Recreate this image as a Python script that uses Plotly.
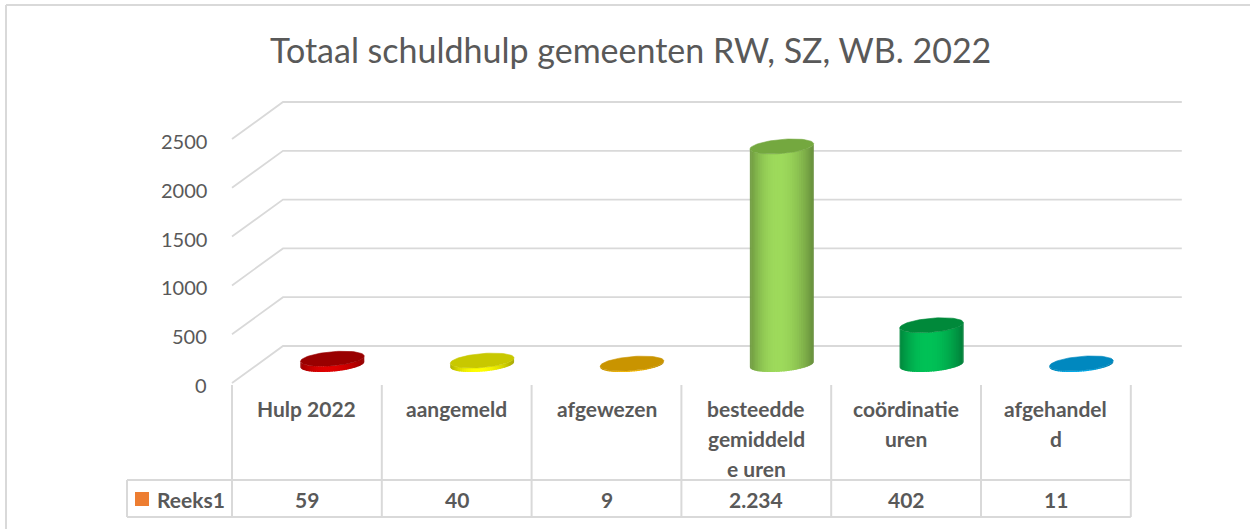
import numpy as np
import plotly.graph_objects as go

# ---------------- data ----------------
title = "Totaal schuldhulp gemeenten RW, SZ, WB. 2022"
categories = ["Hulp 2022", "aangemeld", "afgewezen",
              "besteedde gemiddelde uren", "coördinatie uren", "afgehandeld"]
category_lines = [["Hulp 2022"], ["aangemeld"], ["afgewezen"],
                  ["besteedde", "gemiddeld", "e uren"], ["coördinatie", "uren"],
                  ["afgehandel", "d"]]
values = [59, 40, 9, 2234, 402, 11]
value_labels = ["59", "40", "9", "2.234", "402", "11"]
series_name = "Reeks1"
tick_values = [0, 500, 1000, 1500, 2000, 2500]
tick_labels = ["0", "500", "1000", "1500", "2000", "2500"]
side_colors = ["#E00000", "#FFFF00", "#FFC000", "#9EDB5C", "#00C257", "#00B0F0"]
top_colors = ["#990000", "#C8C800", "#C99400", "#74A83F", "#00893A", "#0088BF"]

# ---------------- layout geometry ----------------
W, H = 1250, 529
CAT_PX = 149.8
LEFT_PX = 232.0
ZERO_PX = 383.0
VAL_PX = 0.0976
DEPTH_X, DEPTH_Y = 51.0, 37.0
GRID = "#D9D9D9"
TXT = "#595959"
FONT = "Lato"

n = len(categories)
dxu = DEPTH_X / CAT_PX
dyu = DEPTH_Y / VAL_PX


def px_to_x(px):
    return -0.5 + (px - LEFT_PX) / CAT_PX


def px_to_y(py):
    return (ZERO_PX - py) / VAL_PX


def hex_rgb(h):
    h = h.lstrip("#")
    return np.array([int(h[i:i + 2], 16) for i in (0, 2, 4)], dtype=float)


def shade(h, f):
    c = np.clip(hex_rgb(h) * f, 0, 255).astype(int)
    return "rgb(%d,%d,%d)" % tuple(c)


fig = go.Figure()

# back wall grid lines (with perspective diagonal)
gx, gy = [], []
for v in tick_values:
    gx += [-0.5, -0.5 + dxu, n - 0.5 + dxu, None]
    gy += [v, v + dyu, v + dyu, None]
fig.add_trace(go.Scatter(x=gx, y=gy, mode="lines", line=dict(color=GRID, width=1.8),
                         hoverinfo="skip", showlegend=False))

# cylinders
A_PX, B_PX, ROT = 32.0, 7.0, np.deg2rad(5)


def ellipse_pt(t):
    xp = A_PX * np.cos(t) * np.cos(ROT) + B_PX * np.sin(t) * np.sin(ROT)
    yp = -A_PX * np.cos(t) * np.sin(ROT) + B_PX * np.sin(t) * np.cos(ROT)
    return xp / CAT_PX, -yp / VAL_PX


NS = 40
for i, v in enumerate(values):
    cx = i + dxu / 2
    y0 = dyu / 2
    y1 = v + dyu / 2
    ts = np.linspace(0, np.pi, NS + 1)
    dt = ts[1] - ts[0]
    for k in range(NS):
        t0, t1 = ts[k], ts[k + 1]
        tm = 0.5 * (t0 + t1)
        u = (1 + np.cos(tm)) / 2  # 0 left, 1 right
        if u < 0.42:
            f = 1 - 0.30 * ((0.42 - u) / 0.42) ** 2
        else:
            f = 1 - 0.36 * ((u - 0.42) / 0.58) ** 2
        col = shade(side_colors[i], f)
        t1e = min(t1 + 0.7 * dt, np.pi) if k < NS - 1 else t1
        tt = np.linspace(t0, t1e, 4)
        ex, ey = ellipse_pt(tt)
        xs = list(cx + ex) + list(cx + ex[::-1])
        ys = list(y0 + ey) + list(y1 + ey[::-1])
        fig.add_trace(go.Scatter(x=xs, y=ys, mode="lines", fill="toself",
                                 fillcolor=col, line=dict(width=0),
                                 hoverinfo="skip", showlegend=False))
    tt = np.linspace(0, 2 * np.pi, 80)
    ex, ey = ellipse_pt(tt)
    fig.add_trace(go.Scatter(x=cx + ex, y=y1 + ey, mode="lines", fill="toself",
                             fillcolor=top_colors[i], line=dict(color=top_colors[i], width=0.6),
                             hoverinfo="skip", showlegend=False))

# data table lines
TABLE_TOP, ROW_TOP, ROW_BOT, TABLE_LEFT = 385, 480, 517, 127
lx, ly = [], []
for k in range(n + 1):
    lx += [k - 0.5, k - 0.5, None]
    ly += [px_to_y(TABLE_TOP), px_to_y(ROW_BOT), None]
lx += [px_to_x(TABLE_LEFT), px_to_x(TABLE_LEFT), None]
ly += [px_to_y(ROW_TOP), px_to_y(ROW_BOT), None]
for yy in (ROW_TOP, ROW_BOT):
    lx += [px_to_x(TABLE_LEFT), n - 0.5, None]
    ly += [px_to_y(yy), px_to_y(yy), None]
fig.add_trace(go.Scatter(x=lx, y=ly, mode="lines", line=dict(color=GRID, width=2),
                         hoverinfo="skip", showlegend=False))

# legend key
fig.add_trace(go.Scatter(x=[px_to_x(142)], y=[px_to_y(499)], mode="markers",
                         marker=dict(symbol="square", size=14, color="#ED7D31"),
                         hoverinfo="skip", showlegend=False))

ann = []
# y tick labels
for v, lab in zip(tick_values, tick_labels):
    ann.append(dict(x=px_to_x(209), y=v, text=lab, xanchor="right", yanchor="middle",
                    yshift=-2, showarrow=False, font=dict(family=FONT, size=20, color=TXT)))
# category header
for i, lines in enumerate(category_lines):
    for j, line in enumerate(lines):
        ann.append(dict(x=i, y=px_to_y(408 + 30 * j), text="<b>%s</b>" % line,
                        xanchor="center", yanchor="middle", showarrow=False,
                        font=dict(family=FONT, size=21, color=TXT)))
# values row
for i, lab in enumerate(value_labels):
    ann.append(dict(x=i, y=px_to_y(499), text="<b>%s</b>" % lab, xanchor="center",
                    yanchor="middle", showarrow=False, font=dict(family=FONT, size=21, color=TXT)))
ann.append(dict(x=px_to_x(155), y=px_to_y(499), text="<b>%s</b>" % series_name,
                xanchor="left", yanchor="middle", showarrow=False,
                font=dict(family=FONT, size=21, color=TXT)))
# title
ann.append(dict(x=px_to_x(630), y=px_to_y(49), text=title, xanchor="center", yanchor="middle",
                showarrow=False, font=dict(family=FONT, size=34, color=TXT)))

# chart area border (top & left, the rest is cropped)
shapes = [
    dict(type="line", xref="paper", yref="paper", x0=6 / W, x1=1, y0=1 - 5 / H, y1=1 - 5 / H,
         line=dict(color=GRID, width=2)),
    dict(type="line", xref="paper", yref="paper", x0=6 / W, x1=6 / W, y0=0, y1=1 - 5 / H,
         line=dict(color=GRID, width=2)),
]

fig.update_layout(
    width=W, height=H, margin=dict(l=0, r=0, t=0, b=0),
    paper_bgcolor="white", plot_bgcolor="white",
    xaxis=dict(range=[px_to_x(0), px_to_x(W)], visible=False, fixedrange=True),
    yaxis=dict(range=[px_to_y(H), px_to_y(0)], visible=False, fixedrange=True),
    annotations=ann, shapes=shapes, showlegend=False,
)

fig.write_html("out.html", config={"displayModeBar": False},
               post_script="document.body.style.margin='0';document.body.style.overflow='hidden';")
